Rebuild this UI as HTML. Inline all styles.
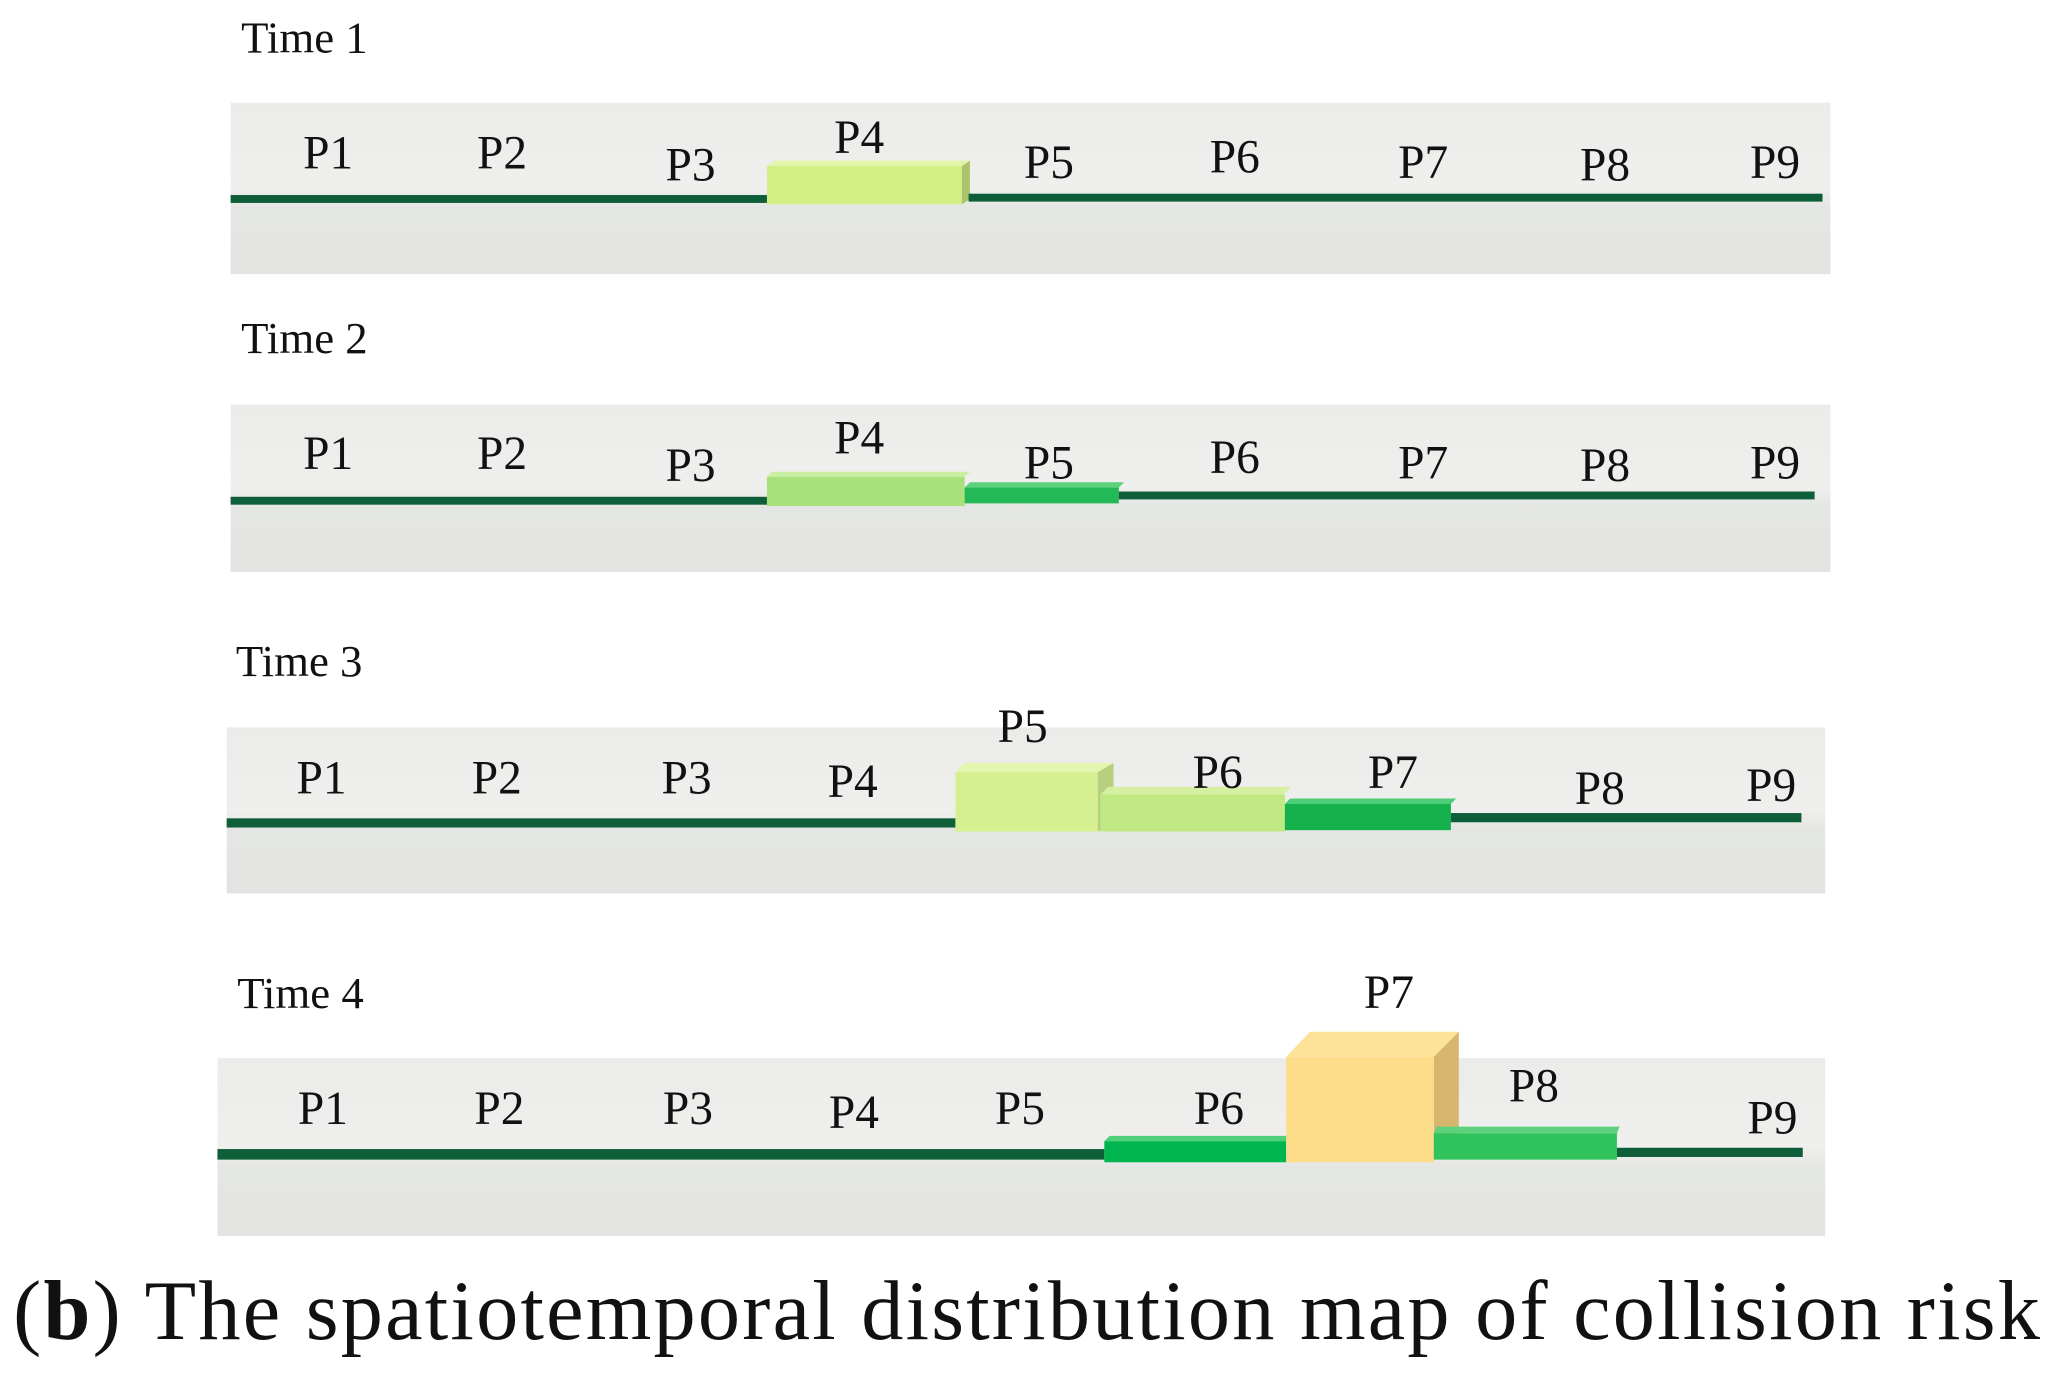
<!DOCTYPE html>
<html><head><meta charset="utf-8"><style>
html,body{margin:0;padding:0;background:#fff;}
svg{display:block;}
text{font-family:"Liberation Serif",serif;fill:#111;}
</style></head><body>
<svg width="2065" height="1381" viewBox="0 0 1567 1048" preserveAspectRatio="none" xmlns="http://www.w3.org/2000/svg">
<defs>
<linearGradient id="bg" x1="0" y1="0" x2="0" y2="1">
<stop offset="0" stop-color="#ebebe9"/><stop offset="0.5" stop-color="#efefed"/><stop offset="0.62" stop-color="#e4e6e4"/><stop offset="1" stop-color="#e3e4e2"/>
</linearGradient>
</defs>
<g font-size="34">
<text x="183" y="40">Time 1</text>
<text x="183" y="268">Time 2</text>
<text x="179" y="513">Time 3</text>
<text x="180" y="765">Time 4</text>
</g>
<rect x="175" y="78" width="1214" height="130" fill="url(#bg)"/>
<rect x="175" y="148" width="407" height="6" fill="#0f5e3a"/>
<polygon points="582,126 588,122 736,122 730,126" fill="#e3f5a8"/>
<polygon points="730,126 736,122 736,151 730,155" fill="#a9c46a"/>
<rect x="582" y="126" width="148" height="29" fill="#d3ee85"/>
<rect x="735" y="147" width="648" height="6" fill="#0f5e3a"/>
<g font-size="36">
<text x="230" y="128">P1</text><text x="362" y="128">P2</text><text x="505" y="137">P3</text><text x="633" y="116">P4</text><text x="777" y="135">P5</text><text x="918" y="131">P6</text><text x="1061" y="135">P7</text><text x="1199" y="137">P8</text><text x="1328" y="135">P9</text>
</g>
<rect x="175" y="307" width="1214" height="127" fill="url(#bg)"/>
<rect x="175" y="377" width="407" height="6" fill="#0f5e3a"/>
<polygon points="582,362 586,358 736,358 732,362" fill="#c8eea0"/>
<rect x="582" y="362" width="150" height="22" fill="#a8e07a"/>
<polygon points="732,370 736,366 853,366 849,370" fill="#5cd07c"/>
<rect x="732" y="370" width="117" height="12" fill="#22b956"/>
<rect x="849" y="373" width="528" height="6" fill="#0f5e3a"/>
<g font-size="36">
<text x="230" y="356">P1</text><text x="362" y="356">P2</text><text x="505" y="365">P3</text><text x="633" y="344">P4</text><text x="777" y="363">P5</text><text x="918" y="359">P6</text><text x="1061" y="363">P7</text><text x="1199" y="365">P8</text><text x="1328" y="363">P9</text>
</g>
<rect x="172" y="552" width="1213" height="126" fill="url(#bg)"/>
<rect x="172" y="621" width="553" height="7" fill="#0f5e3a"/>
<polygon points="725,586 732,579 845,579 838,586" fill="#e3f5ae"/>
<polygon points="833,586 845,579 845,625 833,631" fill="#b9cf80"/>
<rect x="725" y="586" width="108" height="45" fill="#d6f091"/>
<polygon points="835,603 841,597 980,597 974,603" fill="#d4f0a0"/>
<rect x="835" y="603" width="140" height="28" fill="#c0e883"/>
<polygon points="975,610 979,606 1105,606 1101,610" fill="#4dcd78"/>
<rect x="975" y="610" width="126" height="20" fill="#15b14c"/>
<rect x="1101" y="617" width="266" height="7" fill="#0f5e3a"/>
<g font-size="36">
<text x="225" y="602">P1</text><text x="358" y="602">P2</text><text x="502" y="602">P3</text><text x="628" y="605">P4</text><text x="757" y="563">P5</text><text x="905" y="598">P6</text><text x="1038" y="598">P7</text><text x="1195" y="610">P8</text><text x="1325" y="608">P9</text>
</g>
<rect x="165" y="803" width="1220" height="135" fill="url(#bg)"/>
<rect x="165" y="872" width="673" height="8" fill="#0f5e3a"/>
<polygon points="838,866 842,862 978,862 976,866" fill="#4fcf7a"/>
<rect x="838" y="866" width="138" height="16" fill="#00b550"/>
<polygon points="976,802 994,783 1107,783 1089,802" fill="#fde39a"/>
<polygon points="1088,802 1107,783 1107,862 1088,880" fill="#d7b76d"/>
<rect x="976" y="802" width="112" height="80" fill="#fddc8a"/>
<polygon points="1088,860 1090,855 1229,855 1227,860" fill="#5ed17e"/>
<rect x="1088" y="860" width="139" height="20" fill="#30c35c"/>
<rect x="1227" y="871" width="141" height="7" fill="#0f5e3a"/>
<g font-size="36">
<text x="226" y="853">P1</text><text x="360" y="853">P2</text><text x="503" y="853">P3</text><text x="629" y="856">P4</text><text x="755" y="853">P5</text><text x="906" y="853">P6</text><text x="1035" y="765">P7</text><text x="1145" y="836">P8</text><text x="1326" y="860">P9</text>
</g>
<text x="10" y="1016" font-size="64" textLength="1538" lengthAdjust="spacing">(<tspan font-weight="bold">b</tspan>) The spatiotemporal distribution map of collision risk</text>
</svg>
</body></html>
